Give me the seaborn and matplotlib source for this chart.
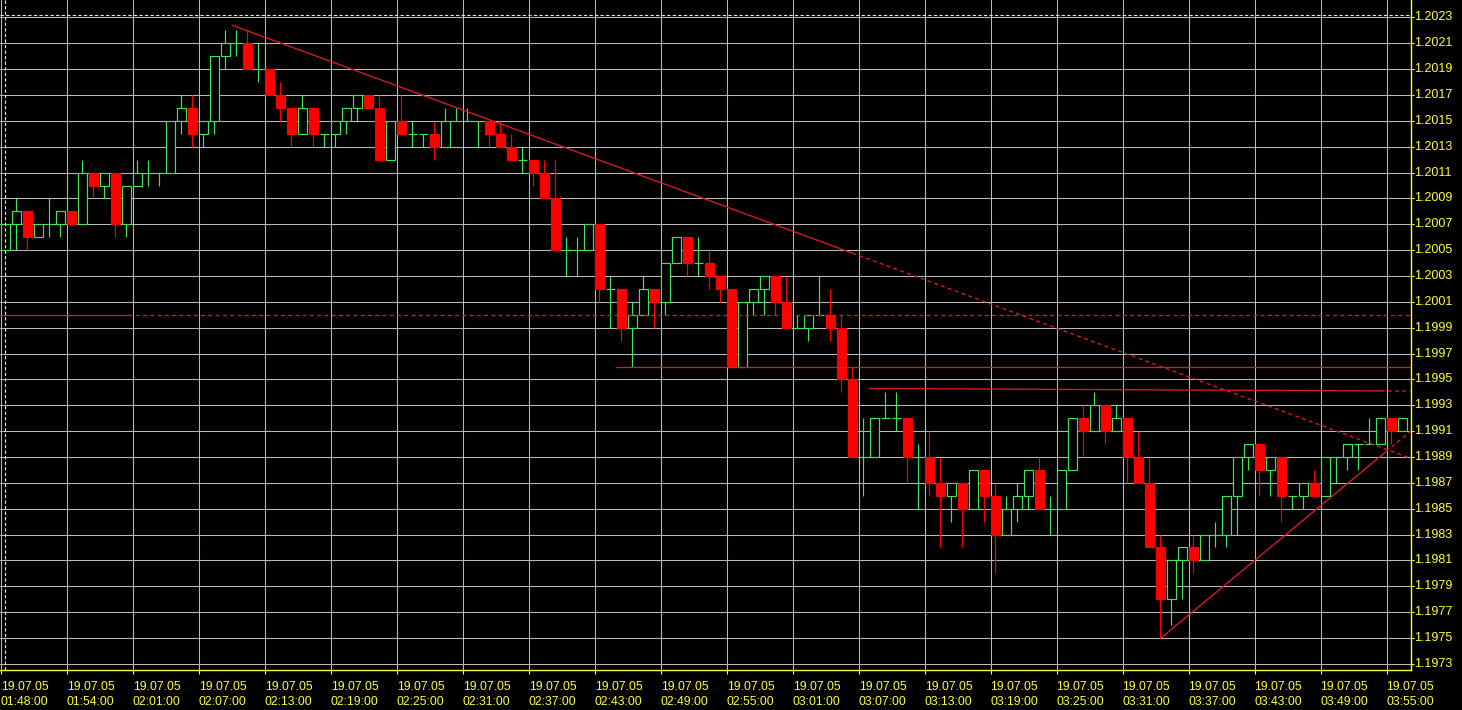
import numpy as np
import pandas as pd
import matplotlib
matplotlib.use("Agg")
import matplotlib.pyplot as plt
import seaborn as sns

# 1-minute bars, 19.07.05 01:48 .. 03:56
opens = [1.2005, 1.2007, 1.2008, 1.2006, 1.2007, 1.2007, 1.2008, 1.2007, 1.2011, 1.2010,
         1.2011, 1.2007, 1.2010, 1.2011, 1.2011, 1.2011, 1.2015, 1.2016, 1.2014, 1.2015,
         1.2020, 1.2021, 1.2021, 1.2019, 1.2019, 1.2017, 1.2016, 1.2014, 1.2016, 1.2014,
         1.2014, 1.2015, 1.2016, 1.2017, 1.2016, 1.2012, 1.2015, 1.2014, 1.2014, 1.2014,
         1.2013, 1.2015, 1.2015, 1.2015, 1.2015, 1.2014, 1.2013, 1.2012, 1.2012, 1.2011,
         1.2009, 1.2005, 1.2005, 1.2005, 1.2007, 1.2002, 1.2002, 1.1999, 1.2000, 1.2002,
         1.2001, 1.2004, 1.2006, 1.2004, 1.2004, 1.2003, 1.2002, 1.1996, 1.2001, 1.2002,
         1.2003, 1.2001, 1.1999, 1.1999, 1.2000, 1.2000, 1.1999, 1.1995, 1.1989, 1.1989,
         1.1992, 1.1992, 1.1992, 1.1989, 1.1989, 1.1987, 1.1986, 1.1987, 1.1985, 1.1988,
         1.1986, 1.1983, 1.1985, 1.1986, 1.1988, 1.1985, 1.1985, 1.1988, 1.1992, 1.1991,
         1.1993, 1.1991, 1.1992, 1.1989, 1.1987, 1.1982, 1.1978, 1.1981, 1.1982, 1.1981,
         1.1983, 1.1983, 1.1986, 1.1989, 1.1990, 1.1988, 1.1989, 1.1986, 1.1986, 1.1987,
         1.1986, 1.1989, 1.1989, 1.1990, 1.1990, 1.1990, 1.1992, 1.1991]
highs = [1.2007, 1.2009, 1.2008, 1.2007, 1.2009, 1.2008, 1.2008, 1.2012, 1.2011, 1.2011,
         1.2011, 1.2010, 1.2012, 1.2012, 1.2011, 1.2015, 1.2017, 1.2017, 1.2015, 1.2020,
         1.2022, 1.2022, 1.2022, 1.2021, 1.2019, 1.2018, 1.2016, 1.2017, 1.2016, 1.2014,
         1.2015, 1.2016, 1.2017, 1.2017, 1.2017, 1.2015, 1.2017, 1.2015, 1.2014, 1.2015,
         1.2016, 1.2016, 1.2016, 1.2015, 1.2015, 1.2015, 1.2014, 1.2013, 1.2012, 1.2012,
         1.2012, 1.2006, 1.2006, 1.2007, 1.2007, 1.2003, 1.2002, 1.2001, 1.2003, 1.2002,
         1.2004, 1.2006, 1.2006, 1.2006, 1.2005, 1.2003, 1.2002, 1.2001, 1.2002, 1.2003,
         1.2003, 1.2003, 1.2000, 1.2000, 1.2003, 1.2002, 1.2000, 1.1996, 1.1992, 1.1992,
         1.1994, 1.1994, 1.1992, 1.1990, 1.1991, 1.1989, 1.1987, 1.1987, 1.1988, 1.1988,
         1.1987, 1.1986, 1.1987, 1.1988, 1.1989, 1.1986, 1.1988, 1.1992, 1.1993, 1.1994,
         1.1993, 1.1993, 1.1992, 1.1991, 1.1989, 1.1983, 1.1981, 1.1982, 1.1983, 1.1983,
         1.1984, 1.1986, 1.1989, 1.1990, 1.1990, 1.1989, 1.1989, 1.1986, 1.1987, 1.1988,
         1.1989, 1.1989, 1.1990, 1.1990, 1.1992, 1.1992, 1.1992, 1.1992]
lows = [1.2005, 1.2005, 1.2005, 1.2006, 1.2006, 1.2006, 1.2007, 1.2007, 1.2009, 1.2009,
        1.2006, 1.2006, 1.2010, 1.2010, 1.2010, 1.2011, 1.2014, 1.2013, 1.2013, 1.2014,
        1.2019, 1.2020, 1.2019, 1.2018, 1.2017, 1.2015, 1.2013, 1.2014, 1.2013, 1.2013,
        1.2013, 1.2014, 1.2015, 1.2016, 1.2012, 1.2012, 1.2014, 1.2013, 1.2013, 1.2012,
        1.2013, 1.2015, 1.2015, 1.2013, 1.2013, 1.2013, 1.2012, 1.2011, 1.2010, 1.2009,
        1.2005, 1.2003, 1.2003, 1.2005, 1.2001, 1.1999, 1.1998, 1.1996, 1.2000, 1.1999,
        1.2000, 1.2004, 1.2003, 1.2003, 1.2002, 1.2001, 1.1996, 1.1996, 1.2000, 1.2000,
        1.2000, 1.1999, 1.1999, 1.1998, 1.2000, 1.1998, 1.1994, 1.1989, 1.1986, 1.1989,
        1.1992, 1.1991, 1.1987, 1.1985, 1.1986, 1.1982, 1.1984, 1.1982, 1.1985, 1.1984,
        1.1980, 1.1983, 1.1984, 1.1985, 1.1985, 1.1983, 1.1985, 1.1988, 1.1989, 1.1991,
        1.1990, 1.1991, 1.1987, 1.1987, 1.1982, 1.1975, 1.1976, 1.1978, 1.1980, 1.1981,
        1.1982, 1.1982, 1.1983, 1.1988, 1.1986, 1.1986, 1.1984, 1.1985, 1.1985, 1.1986,
        1.1986, 1.1987, 1.1988, 1.1988, 1.1990, 1.1990, 1.1990, 1.1991]
closes = [1.2007, 1.2008, 1.2006, 1.2007, 1.2007, 1.2008, 1.2007, 1.2011, 1.2010, 1.2011,
          1.2007, 1.2010, 1.2011, 1.2011, 1.2011, 1.2015, 1.2016, 1.2014, 1.2015, 1.2020,
          1.2021, 1.2021, 1.2019, 1.2019, 1.2017, 1.2016, 1.2014, 1.2016, 1.2014, 1.2014,
          1.2015, 1.2016, 1.2017, 1.2016, 1.2012, 1.2015, 1.2014, 1.2014, 1.2014, 1.2013,
          1.2015, 1.2015, 1.2015, 1.2015, 1.2014, 1.2013, 1.2012, 1.2012, 1.2011, 1.2009,
          1.2005, 1.2005, 1.2005, 1.2007, 1.2002, 1.2002, 1.1999, 1.2000, 1.2002, 1.2001,
          1.2004, 1.2006, 1.2004, 1.2004, 1.2003, 1.2002, 1.1996, 1.2001, 1.2002, 1.2003,
          1.2001, 1.1999, 1.1999, 1.2000, 1.2000, 1.1999, 1.1995, 1.1989, 1.1989, 1.1992,
          1.1992, 1.1992, 1.1989, 1.1989, 1.1987, 1.1986, 1.1987, 1.1985, 1.1988, 1.1986,
          1.1983, 1.1985, 1.1986, 1.1988, 1.1985, 1.1985, 1.1988, 1.1992, 1.1991, 1.1993,
          1.1991, 1.1992, 1.1989, 1.1987, 1.1982, 1.1978, 1.1981, 1.1982, 1.1981, 1.1983,
          1.1983, 1.1986, 1.1989, 1.1990, 1.1988, 1.1989, 1.1986, 1.1986, 1.1987, 1.1986,
          1.1989, 1.1989, 1.1990, 1.1990, 1.1990, 1.1992, 1.1991, 1.1992]

date_label = "19.07.05"
tick_times = ["01:48:00", "01:54:00", "02:01:00", "02:07:00", "02:13:00", "02:19:00",
              "02:25:00", "02:31:00", "02:37:00", "02:43:00", "02:49:00", "02:55:00",
              "03:01:00", "03:07:00", "03:13:00", "03:19:00", "03:25:00", "03:31:00",
              "03:37:00", "03:43:00", "03:49:00", "03:55:00"]
tick_bars = list(range(0, 127, 6))
price_ticks = np.round(np.arange(1.1973, 1.20235, 0.0002), 4)

# objects drawn on the chart
level_a = 1.2000        # horizontal line, whole width
level_b = 1.1996        # horizontal line from bar 55.5
level_b_start = 55.5
resist_x = [78.5, 127.75]
resist_y = [1.19943, 1.19941]
down_x = [20.6, 127.75]
down_y = [1.20224, 1.19889]
up_x = [105.05, 127.75]
up_y = [1.19750, 1.19910]
ask_level = 1.20232

GREEN = "#3ee65a"
RED = "#ff0000"
LINE_RED = "#dc1c24"
YELLOW = "#ffff33"
GRID = "#bababa"

df = pd.DataFrame({"open": opens, "high": highs, "low": lows, "close": closes})
df["bar"] = np.arange(len(df))
df["up"] = df["close"] >= df["open"]

sns.set_theme(style="dark", rc={"axes.facecolor": "black", "figure.facecolor": "black"})
plt.rcParams["font.family"] = ["Liberation Sans", "DejaVu Sans"]

fig = plt.figure(figsize=(14.62, 7.10), dpi=100)
ax = fig.add_axes([0, 40 / 710, 1410.7 / 1462, 670 / 710])
ax.set_facecolor("black")

# wicks then bodies
wick_cols = np.where(df["up"], GREEN, RED)
ax.vlines(df["bar"], df["low"], df["high"], colors=wick_cols, lw=0.85, zorder=3)
body_low = df[["open", "close"]].min(axis=1)
body_h = (df["close"] - df["open"]).abs()
ax.bar(df["bar"], body_h, bottom=body_low, width=0.88,
       color=np.where(df["up"], "black", RED), edgecolor=wick_cols,
       linewidth=0.85, zorder=4)


def line_at(x, xs, ys):
    return ys[0] + (ys[1] - ys[0]) * (x - xs[0]) / (xs[1] - xs[0])


dash = (0, (3, 2.5))
lw_line = 0.95
xmin, xmax = -0.5, 127.75

# horizontal 1.2000: solid at the left, dashed further on
sns.lineplot(x=[xmin, 11.1], y=[level_a, level_a], ax=ax, color=LINE_RED, lw=lw_line, zorder=5)
ax.plot([11.1, xmax], [level_a, level_a], color=LINE_RED, lw=lw_line, ls=dash, zorder=5)
sns.lineplot(x=[level_b_start, xmax], y=[level_b, level_b], ax=ax, color=LINE_RED,
             lw=lw_line, zorder=5)

r_cut = 125.0
sns.lineplot(x=[resist_x[0], r_cut], y=[resist_y[0], line_at(r_cut, resist_x, resist_y)],
             ax=ax, color=LINE_RED, lw=lw_line, zorder=5)
ax.plot([r_cut, resist_x[1]], [line_at(r_cut, resist_x, resist_y), resist_y[1]],
        color=LINE_RED, lw=lw_line, ls=dash, zorder=5)

d_cut = 77.0
sns.lineplot(x=[down_x[0], d_cut], y=[down_y[0], line_at(d_cut, down_x, down_y)],
             ax=ax, color=LINE_RED, lw=lw_line, zorder=5)
ax.plot([d_cut, down_x[1]], [line_at(d_cut, down_x, down_y), down_y[1]],
        color=LINE_RED, lw=lw_line, ls=dash, zorder=5)

u_cut = 125.5
sns.lineplot(x=[up_x[0], u_cut], y=[up_y[0], line_at(u_cut, up_x, up_y)],
             ax=ax, color=LINE_RED, lw=lw_line, zorder=5)
ax.plot([u_cut, up_x[1]], [line_at(u_cut, up_x, up_y), up_y[1]],
        color=LINE_RED, lw=lw_line, ls=dash, zorder=5)

# yellow dashed cursor lines
ax.axhline(ask_level, color=YELLOW, lw=0.8, ls=(0, (3, 2)), zorder=6)
ax.axvline(0, color=YELLOW, lw=0.8, ls=(0, (3, 2)), zorder=6)

ax.set_xlim(xmin, xmax)
ax.set_ylim(1.1972524, 1.202435)

ax.set_xticks([b - 0.44 for b in tick_bars])
ax.set_xticklabels([f"{date_label}\n{t}" for t in tick_times], ha="left", linespacing=1.3)
ax.yaxis.tick_right()
ax.set_yticks(price_ticks)
ax.set_yticklabels([f"{p:.4f}" for p in price_ticks], va="center")

ax.grid(True, color=GRID, lw=0.75)
ax.set_axisbelow(True)
for side in ["left", "top"]:
    ax.spines[side].set_visible(False)
for side in ["bottom", "right"]:
    ax.spines[side].set_visible(True)
    ax.spines[side].set_color(YELLOW)
    ax.spines[side].set_linewidth(1)
ax.tick_params(axis="x", colors=YELLOW, length=3, width=0.8, pad=5, labelsize=8.8,
               bottom=True, direction="out")
ax.tick_params(axis="y", colors=YELLOW, length=2, width=0.8, pad=0.5, labelsize=9,
               right=True, left=False, direction="out")
ax.set_xlabel("")
ax.set_ylabel("")

fig.savefig("out.png", dpi=100, facecolor="black")
